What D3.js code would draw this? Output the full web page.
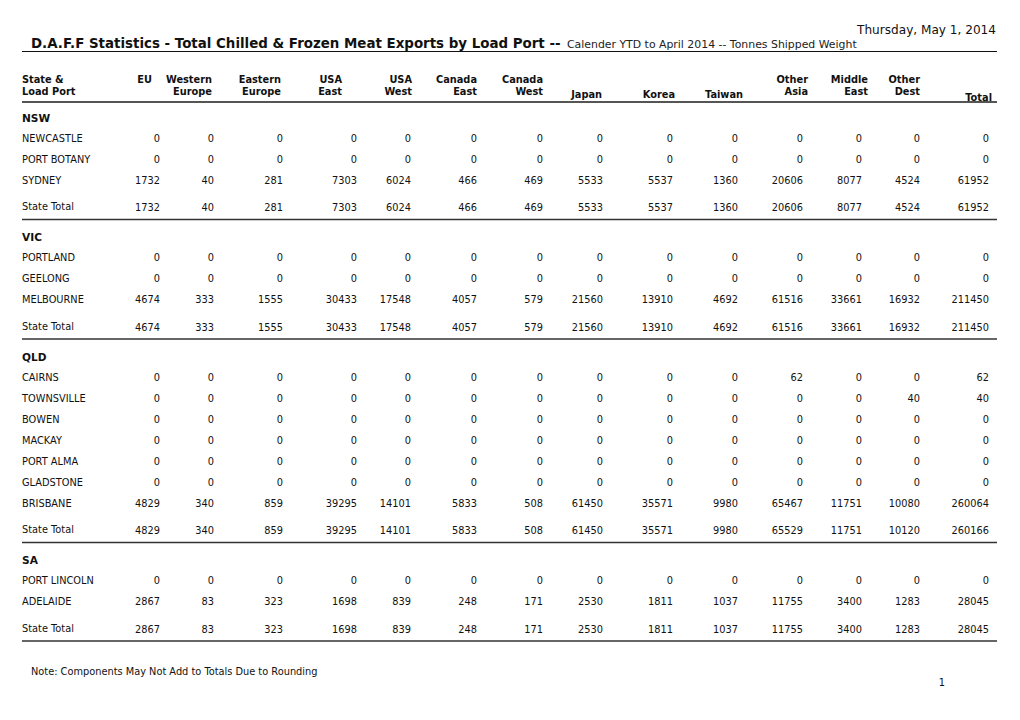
<!DOCTYPE html>
<html>
<head>
<meta charset="utf-8">
<script src="https://cdn.jsdelivr.net/npm/d3@7"></script>
<style>
  html, body { margin: 0; padding: 0; background: #fff; }
  svg text { font-family: "DejaVu Sans", Verdana, sans-serif; fill: #111; }
</style>
</head>
<body>
<svg id="chart" width="1020" height="720"></svg>
<script>
// ---------------- DATA ----------------
const reportDate = "Thursday, May 1, 2014";
const titleMain = "D.A.F.F Statistics - Total Chilled & Frozen Meat Exports by Load Port --";
const titleSub = "Calender YTD to April 2014 -- Tonnes Shipped Weight";
const noteText = "Note: Components May Not Add to Totals Due to Rounding";
const pageNumber = "1";

const columns = ["EU", "Western Europe", "Eastern Europe", "USA East", "USA West", "Canada East",
  "Canada West", "Japan", "Korea", "Taiwan", "Other Asia", "Middle East", "Other Dest", "Total"];
const headLine1 = ["EU", "Western", "Eastern", "USA", "USA", "Canada", "Canada", "", "", "", "Other", "Middle", "Other", ""];
const headLine2 = ["", "Europe", "Europe", "East", "West", "East", "West", "Japan", "Korea", "Taiwan", "Asia", "East", "Dest", "Total"];

const states = ["NSW", "VIC", "QLD", "SA"];

const nswPorts = ["NEWCASTLE", "PORT BOTANY", "SYDNEY"];
const nswValues = [
  [0, 0, 0, 0, 0, 0, 0, 0, 0, 0, 0, 0, 0, 0],
  [0, 0, 0, 0, 0, 0, 0, 0, 0, 0, 0, 0, 0, 0],
  [1732, 40, 281, 7303, 6024, 466, 469, 5533, 5537, 1360, 20606, 8077, 4524, 61952]
];
const nswTotal = [1732, 40, 281, 7303, 6024, 466, 469, 5533, 5537, 1360, 20606, 8077, 4524, 61952];

const vicPorts = ["PORTLAND", "GEELONG", "MELBOURNE"];
const vicValues = [
  [0, 0, 0, 0, 0, 0, 0, 0, 0, 0, 0, 0, 0, 0],
  [0, 0, 0, 0, 0, 0, 0, 0, 0, 0, 0, 0, 0, 0],
  [4674, 333, 1555, 30433, 17548, 4057, 579, 21560, 13910, 4692, 61516, 33661, 16932, 211450]
];
const vicTotal = [4674, 333, 1555, 30433, 17548, 4057, 579, 21560, 13910, 4692, 61516, 33661, 16932, 211450];

const qldPorts = ["CAIRNS", "TOWNSVILLE", "BOWEN", "MACKAY", "PORT ALMA", "GLADSTONE", "BRISBANE"];
const qldValues = [
  [0, 0, 0, 0, 0, 0, 0, 0, 0, 0, 62, 0, 0, 62],
  [0, 0, 0, 0, 0, 0, 0, 0, 0, 0, 0, 0, 40, 40],
  [0, 0, 0, 0, 0, 0, 0, 0, 0, 0, 0, 0, 0, 0],
  [0, 0, 0, 0, 0, 0, 0, 0, 0, 0, 0, 0, 0, 0],
  [0, 0, 0, 0, 0, 0, 0, 0, 0, 0, 0, 0, 0, 0],
  [0, 0, 0, 0, 0, 0, 0, 0, 0, 0, 0, 0, 0, 0],
  [4829, 340, 859, 39295, 14101, 5833, 508, 61450, 35571, 9980, 65467, 11751, 10080, 260064]
];
const qldTotal = [4829, 340, 859, 39295, 14101, 5833, 508, 61450, 35571, 9980, 65529, 11751, 10120, 260166];

const saPorts = ["PORT LINCOLN", "ADELAIDE"];
const saValues = [
  [0, 0, 0, 0, 0, 0, 0, 0, 0, 0, 0, 0, 0, 0],
  [2867, 83, 323, 1698, 839, 248, 171, 2530, 1811, 1037, 11755, 3400, 1283, 28045]
];
const saTotal = [2867, 83, 323, 1698, 839, 248, 171, 2530, 1811, 1037, 11755, 3400, 1283, 28045];

// ---------------- LAYOUT ----------------
const W = 1020, H = 720;
const left = 22, right = 997;
const numRight = [160, 214, 283, 357, 411, 477, 543, 603, 673, 738, 803, 862, 920, 989];
const headRight = [152, 212, 281, 342, 412, 477, 543, 602, 675, 743, 808, 868, 920, 992];

const xNum = d3.scaleOrdinal().domain(columns).range(numRight);
const xHead = d3.scaleOrdinal().domain(columns).range(headRight);

const blocks = [
  { state: states[0], ports: nswPorts, values: nswValues, total: nswTotal },
  { state: states[1], ports: vicPorts, values: vicValues, total: vicTotal },
  { state: states[2], ports: qldPorts, values: qldValues, total: qldTotal },
  { state: states[3], ports: saPorts, values: saValues, total: saTotal }
];

// vertical flow (text centres)
const rowStep = 21, headToPort = 20.5, portToTotal = 27.5, totalToLine = 11.5, lineToHead = 18;
const rows = [];
const rules = [];
let y = 118;
blocks.forEach(b => {
  rows.push({ type: "state", label: b.state, y: y });
  y += headToPort;
  b.ports.forEach((p, i) => {
    rows.push({ type: "port", label: p, values: b.values[i], y: y });
    if (i < b.ports.length - 1) y += rowStep;
  });
  y += portToTotal;
  rows.push({ type: "total", label: "State Total", values: b.total, y: y });
  y += totalToLine;
  rules.push(y);
  y += lineToHead;
});

// ---------------- DRAW ----------------
const svg = d3.select("#chart");
const fs = 9.8;

svg.append("text")
  .attr("x", 996).attr("y", 34)
  .attr("text-anchor", "end")
  .style("font-size", "12.1px")
  .text(reportDate);

const title = svg.append("text").attr("x", 31).attr("y", 48);
title.append("tspan").style("font-size", "13.4px").style("font-weight", "bold").text(titleMain);
title.append("tspan").attr("x", 567).style("font-size", "10.9px").style("fill", "#222").text(titleSub);

svg.append("line")
  .attr("x1", left).attr("x2", right).attr("y1", 51.5).attr("y2", 51.5)
  .attr("stroke", "#111").attr("stroke-width", 1);

// header
const hdr = svg.append("g").style("font-size", fs + "px").style("font-weight", "bold");
hdr.append("text").attr("x", left).attr("y", 83).text("State &");
hdr.append("text").attr("x", left).attr("y", 95).text("Load Port");
hdr.selectAll("text.h1").data(columns.filter((c, i) => headLine1[i] !== ""))
  .join("text").attr("class", "h1")
  .attr("x", d => xHead(d)).attr("y", 83).attr("text-anchor", "end")
  .text(d => headLine1[columns.indexOf(d)]);
hdr.selectAll("text.h2").data(columns)
  .join("text").attr("class", "h2")
  .attr("x", d => xHead(d))
  .attr("y", (d, i) => headLine1[i] !== "" ? 95 : (d === "Total" ? 100.5 : 98))
  .attr("text-anchor", "end")
  .text((d, i) => headLine2[i]);

svg.append("line")
  .attr("x1", left).attr("x2", right).attr("y1", 102).attr("y2", 102)
  .attr("stroke", "#555").attr("stroke-width", 2);

// body rows
const body = svg.append("g").style("font-size", fs + "px");
const rowG = body.selectAll("g.row").data(rows).join("g")
  .attr("class", "row")
  .attr("transform", d => `translate(0,${d.y})`);

rowG.append("text")
  .attr("x", left)
  .attr("y", d => d.type === "total" ? -1 : 0)
  .attr("dy", "0.35em")
  .style("font-weight", d => d.type === "state" ? "bold" : "normal")
  .style("font-size", d => d.type === "state" ? "10.6px" : null)
  .text(d => d.label);

rowG.filter(d => d.values)
  .selectAll("text.v")
  .data(d => d.values.map((v, i) => ({ col: columns[i], v: v })))
  .join("text").attr("class", "v")
  .attr("x", d => xNum(d.col))
  .attr("dy", "0.35em")
  .attr("text-anchor", "end")
  .text(d => d.v);

svg.selectAll("line.rule").data(rules).join("line")
  .attr("class", "rule")
  .attr("x1", left).attr("x2", right)
  .attr("y1", d => d).attr("y2", d => d)
  .attr("stroke", "#333").attr("stroke-width", 1.5);

svg.append("text")
  .attr("x", 31).attr("y", 675)
  .style("font-size", fs + "px")
  .text(noteText);

svg.append("text")
  .attr("x", 945).attr("y", 686)
  .attr("text-anchor", "end")
  .style("font-size", fs + "px")
  .text(pageNumber);
</script>
</body>
</html>
